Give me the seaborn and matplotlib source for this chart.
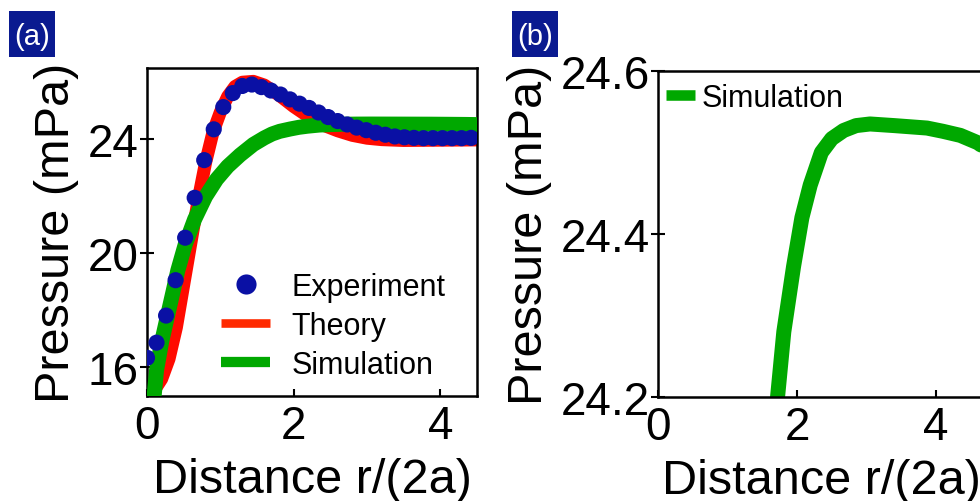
import matplotlib
matplotlib.use("Agg")
import matplotlib.pyplot as plt
import seaborn as sns
from matplotlib.lines import Line2D
from matplotlib.patches import Rectangle

# ---- data -------------------------------------------------------------
# Experiment: measured pressure vs normalised distance
exp_r = [0.00, 0.13, 0.26, 0.39, 0.52, 0.65, 0.78, 0.91, 1.04, 1.17,
         1.30, 1.43, 1.56, 1.69, 1.82, 1.95, 2.08, 2.21, 2.34, 2.47,
         2.60, 2.73, 2.86, 2.99, 3.12, 3.25, 3.38, 3.51, 3.64, 3.77,
         3.90, 4.03, 4.16, 4.29, 4.42]
exp_p = [16.34, 16.87, 17.82, 19.06, 20.55, 21.95, 23.27, 24.35, 25.13, 25.62,
         25.87, 25.92, 25.83, 25.71, 25.57, 25.40, 25.25, 25.10, 24.94, 24.78,
         24.64, 24.52, 24.41, 24.32, 24.23, 24.16, 24.10, 24.07, 24.05, 24.04,
         24.04, 24.04, 24.04, 24.04, 24.05]

# Theory curve
theory_r = [0.00, 0.10, 0.20, 0.30, 0.40, 0.50, 0.60, 0.70, 0.80, 0.90,
            1.00, 1.10, 1.20, 1.30, 1.45, 1.60, 1.80, 2.00, 2.20, 2.40,
            2.60, 2.80, 3.00, 3.20, 3.50, 4.00, 4.50]
theory_p = [14.90, 15.20, 15.60, 16.30, 17.40, 18.90, 20.40, 21.90, 23.20, 24.25,
            24.95, 25.50, 25.85, 26.00, 26.03, 25.90, 25.55, 25.15, 24.80, 24.50,
            24.30, 24.14, 24.04, 23.99, 23.96, 23.97, 23.98]

# Simulation curve
sim_r = [0.09, 0.13, 0.20, 0.27, 0.35, 0.42, 0.52, 0.65, 0.80, 0.95,
         1.10, 1.27, 1.45, 1.60, 1.70, 1.72, 1.81, 1.95, 2.07, 2.19,
         2.35, 2.50, 2.67, 2.85, 3.05, 3.40, 3.87, 4.10, 4.35, 4.60, 4.80]
sim_p = [14.80, 15.90, 16.90, 17.70, 18.60, 19.40, 20.30, 21.20, 22.00, 22.60,
         23.05, 23.45, 23.82, 24.05, 24.18, 24.20, 24.28, 24.36, 24.42, 24.46,
         24.50, 24.517, 24.527, 24.533, 24.535, 24.533, 24.530, 24.526, 24.521, 24.512, 24.50]

xticks = [0, 2, 4]
yticks_a = [16, 20, 24]
yticks_b = [24.2, 24.4, 24.6]
ytick_labels_b = ["24.2", "24.4", "24.6"]

BLUE = "#0a10a4"
RED = "#ff0a00"
RED_KEY = "#ff2a00"
GREEN = "#00a800"
NAVY = "#0a1a90"

# ---- style ------------------------------------------------------------
sns.set_theme(style="white")
plt.rcParams["font.family"] = ["Liberation Sans", "DejaVu Sans"]
plt.rcParams["axes.linewidth"] = 1.8
plt.rcParams["axes.edgecolor"] = "black"
plt.rcParams["text.color"] = "black"
plt.rcParams["axes.labelcolor"] = "black"

W, H = 980, 502
fig = plt.figure(figsize=(W / 100, H / 100), dpi=100)
fig.patch.set_facecolor("white")

ax_a = fig.add_axes([147 / W, (H - 397) / H, 330 / W, 328 / H])
ax_b = fig.add_axes([658 / W, (H - 398) / H, 326 / W, 326 / H])


def style_axes(ax):
    ax.set_facecolor("white")
    for sp in ax.spines.values():
        sp.set_visible(True)
        sp.set_color("black")
        sp.set_linewidth(1.8)
    ax.tick_params(axis="x", direction="in", length=5, width=1.5,
                   labelsize=33, pad=6, colors="black", top=False, bottom=True)
    ax.tick_params(axis="y", direction="inout", length=10, width=1.5,
                   labelsize=33, pad=1, colors="black", left=True, right=False)
    ax.set_xlabel("Distance r/(2a)", fontsize=35, labelpad=6, color="black")
    ax.set_ylabel("Pressure (mPa)", fontsize=35, labelpad=6, color="black")
    ax.grid(False)


# ---- panel (a) --------------------------------------------------------
sns.lineplot(x=theory_r, y=theory_p, ax=ax_a, color=RED, linewidth=9.4,
             sort=False, zorder=2)
sns.lineplot(x=sim_r, y=sim_p, ax=ax_a, color=GREEN, linewidth=10.8,
             sort=False, zorder=3)
sns.scatterplot(x=exp_r, y=exp_p, ax=ax_a, color=BLUE, s=135,
                edgecolor="none", linewidth=0, zorder=4)
for ln in ax_a.get_lines():
    ln.set_solid_joinstyle("round")
    ln.set_solid_capstyle("butt")

ax_a.set_xlim(0, 4.5)
ax_a.set_ylim(15, 26.5)
ax_a.set_xticks(xticks)
ax_a.set_yticks(yticks_a)
style_axes(ax_a)

handles_a = [
    Line2D([], [], ls="none", marker="o", ms=14.5, color=BLUE, mec="none"),
    Line2D([], [], color=RED_KEY, lw=6.2, solid_capstyle="butt"),
    Line2D([], [], color=GREEN, lw=7.4, solid_capstyle="butt"),
]
ax_a.legend(handles_a, ["Experiment", "Theory", "Simulation"],
            loc="center left", bbox_to_anchor=(0.225, 0.214),
            frameon=False, fontsize=22, handlelength=1.6, handletextpad=0.7,
            labelspacing=0.3, borderpad=0, borderaxespad=0,
            labelcolor="black")

# ---- panel (b) --------------------------------------------------------
sns.lineplot(x=sim_r, y=sim_p, ax=ax_b, color=GREEN, linewidth=10.8,
             sort=False)
for ln in ax_b.get_lines():
    ln.set_solid_joinstyle("round")

ax_b.set_xlim(0, 4.69)
ax_b.set_ylim(24.2, 24.6)
ax_b.set_xticks(xticks)
ax_b.set_yticks(yticks_b)
ax_b.set_yticklabels(ytick_labels_b)
style_axes(ax_b)

handles_b = [Line2D([], [], color=GREEN, lw=7.6, solid_capstyle="butt")]
ax_b.legend(handles_b, ["Simulation"], loc="center left",
            bbox_to_anchor=(0.025, 0.917), frameon=False, fontsize=22,
            handlelength=0.95, handletextpad=0.22, borderpad=0,
            borderaxespad=0, labelcolor="black")

# ---- panel tags -------------------------------------------------------
for (x0, tag) in [(9, "(a)"), (512, "(b)")]:
    fig.add_artist(Rectangle((x0 / W, (H - 58) / H), 46 / W, 46 / H,
                             transform=fig.transFigure, facecolor=NAVY,
                             edgecolor="none"))
    fig.text((x0 + 23.5) / W, (H - 37) / H, tag, color="white", fontsize=21,
             ha="center", va="center")

fig.savefig("out.png", dpi=100)
